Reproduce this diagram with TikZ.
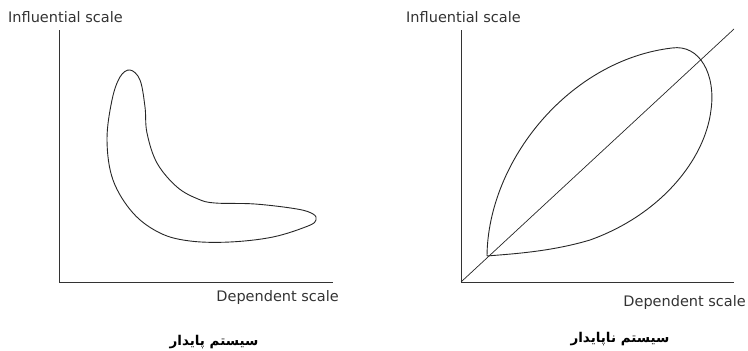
\documentclass[tikz,border=0pt]{standalone}
\usepackage{fontspec}
\setmainfont{DejaVu Sans}
\newfontfamily\farsifont[Script=Arabic]{DejaVu Sans}
\TeXXeTstate=1
\begin{document}
\begin{tikzpicture}[
  x=1pt, y=-1pt,
  axis/.style={draw=black!80, line width=1pt},
  curve/.style={draw=black!85, line width=0.9pt},
  lbl/.style={inner sep=0pt, font=\fontsize{14.5}{16}\selectfont, text=black!80},
  farsi/.style={inner sep=0pt, font=\farsifont\bfseries\fontsize{13.5}{15}\selectfont}
]
  \useasboundingbox (0,0) rectangle (748,351);

  % stable system
  \coordinate (l-top) at (59,30);
  \coordinate (l-orig) at (59,282);
  \coordinate (l-end) at (333,282);
  \draw[axis] (l-top) -- (l-orig) -- (l-end);
  \node[lbl, anchor=west] (l-inf) at (8,17) {Influential scale};
  \node[lbl, anchor=east] (l-dep) at (339,297) {Dependent scale};
  \node[farsi] (l-title) at (214,342) {\beginR سیستم پایدار\endR};
  \draw[curve] plot[smooth cycle, tension=0.6] coordinates {
    (130,70) (140,80) (145,107) (147,133) (157,163) (177,187) (198,199)
    (215,203) (255,204) (297,209) (313,214) (316,220) (308,226) (273,237)
    (230,242) (190,241) (160,233) (133,213) (113,180) (107,140) (112,100)
    (120,77)};

  % unstable system
  \coordinate (r-top) at (461,30);
  \coordinate (r-orig) at (461,282);
  \coordinate (r-end) at (734,282);
  \coordinate (r-diag) at (734,29);
  \coordinate (r-cusp) at (487,256);
  \draw[axis] (r-top) -- (r-orig) -- (r-end);
  \draw[curve, line width=0.7pt] (r-orig) -- (r-diag);
  \node[lbl, anchor=west] (r-inf) at (406,17) {Influential scale};
  \node[lbl, anchor=east] (r-dep) at (746,302) {Dependent scale};
  \node[farsi] (r-title) at (620,339) {\beginR سیستم ناپایدار\endR};
  \draw[curve] (r-cusp) .. controls (488,160) and (570,60) .. (672,48)
    .. controls (700,44) and (716,75) .. (711,110)
    .. controls (705,160) and (660,215) .. (590,240)
    .. controls (550,252) and (510,254) .. (r-cusp);
\end{tikzpicture}
\end{document}
